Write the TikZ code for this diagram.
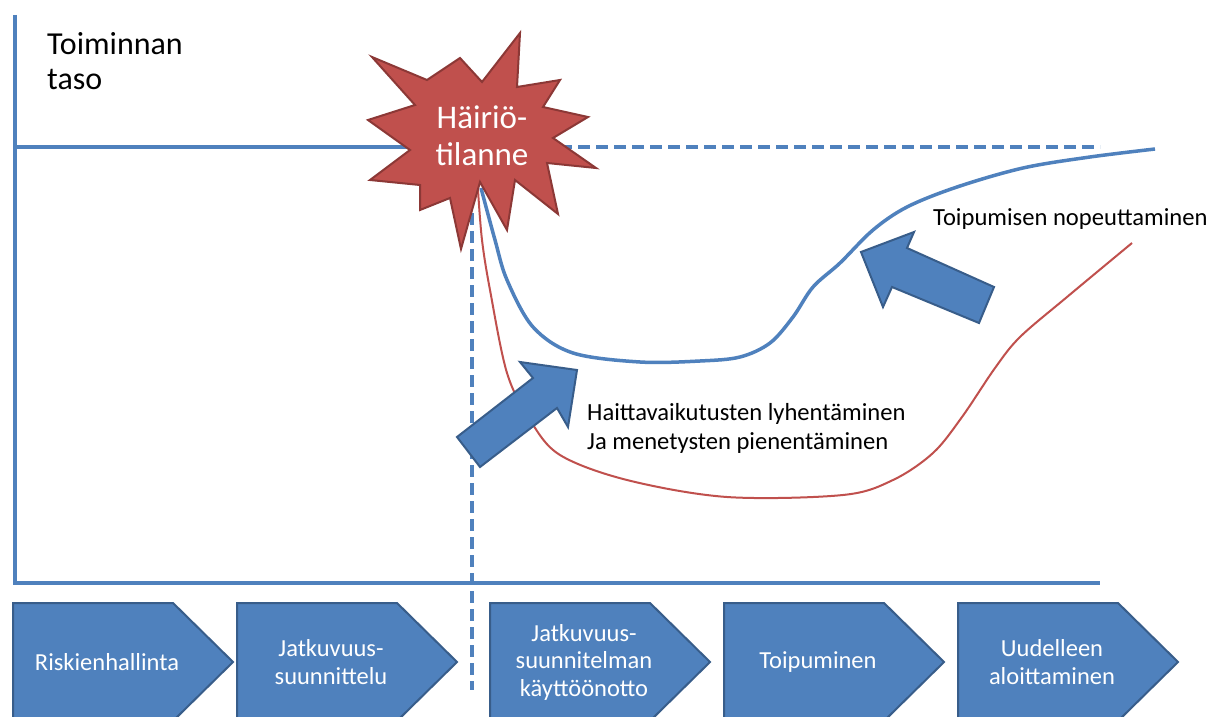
\documentclass[tikz,border=0pt]{standalone}
\usepackage{fontspec}
\setmainfont{Carlito}
\definecolor{lblue}{HTML}{4F81BD}
\definecolor{dblue}{HTML}{385D8A}
\definecolor{lred}{HTML}{C0504D}
\definecolor{dred}{HTML}{8C3836}
\begin{document}
\begin{tikzpicture}[x=1pt,y=-1pt,
  axisline/.style={draw=lblue,line width=3.5pt},
  leveldash/.style={draw=lblue,line width=3.5pt,dash pattern=on 12pt off 6pt},
  bluecurve/.style={draw=lblue,line width=3.5pt},
  redcurve/.style={draw=lred,line width=2pt},
  blockarrow/.style={fill=lblue,draw=dblue,line width=2pt,line join=miter},
  phasebox/.style={fill=lblue,draw=dblue,line width=2pt,line join=miter},
  phasetext/.style={text=white,align=center,inner sep=0pt,font=\fontsize{24.5}{27.5}\selectfont},
  startext/.style={text=white,align=center,inner sep=0pt,font=\fontsize{33}{37}\selectfont},
  note/.style={text=black,align=left,inner sep=0pt,font=\fontsize{24.6}{29}\selectfont}]
\useasboundingbox (0,0) rectangle (1210,717);
\fill[white] (0,0) rectangle (1210,717);

% axes
\coordinate (ytop) at (15,15);
\coordinate (orig) at (15,583);
\coordinate (xend) at (1100,583);
\draw[axisline] (ytop) -- (orig) -- (xend);

% normal level line
\coordinate (lvlL) at (15,147);
\coordinate (lvlM) at (420,147);
\coordinate (lvlD) at (560,147);
\coordinate (lvlR) at (1100,147);
\draw[axisline] (lvlL) -- (lvlM);
\draw[leveldash] (lvlD) -- (lvlR);

% vertical dashed divider
\coordinate (divT) at (472,195);
\coordinate (divB) at (472,690);
\draw[leveldash] (divT) -- (divB);

% curves
\draw[redcurve] plot[smooth,tension=0.55] coordinates {(478,190) (482,240) (490,290) (507,373) (530,420) (560,455) (627,480) (727,497) (843,495) (893,480) (933,453) (962,417) (995,368) (1020,337) (1067,297) (1132,243)};
\draw[bluecurve] plot[smooth,tension=0.55] coordinates {(481,188) (495,240) (507,280) (533,327) (573,353) (640,362) (700,361) (740,357) (770,343) (793,317) (813,287) (840,263) (873,230) (907,207) (957,187) (1023,168) (1090,157) (1155,149)};

% star
\fill[lred,draw=dred,line width=2pt,line join=miter]
  (520,33) -- (517,87) -- (560,80) -- (543,107) -- (588,117) -- (553,138) -- (596,168) -- (547,163) -- (558,214) -- (515,180) -- (507,230) -- (480,182) -- (461,249) -- (450,198) -- (420,210) -- (420,185) -- (370,180) -- (410,150) -- (368,120) -- (415,105) -- (372,57) -- (427,80) -- (460,58) -- (482,82) -- cycle;
\node[startext] (star) at (482,136) {Häiriö-\\tilanne};

% block arrows
\draw[blockarrow] (457,437) -- (533,378) -- (520,362) -- (577,370) -- (568,427) -- (557,408) -- (480,467) -- cycle;
\draw[blockarrow] (861,252) -- (914,232) -- (907,248) -- (994,287) -- (979,323) -- (892,287) -- (883,307) -- cycle;

% labels
\node[inner sep=0pt,anchor=north west,align=left,font=\fontsize{32}{35}\selectfont] (ylabel) at (47,32) {Toiminnan\\taso};
\node[note,anchor=west] (speedup) at (933,219) {Toipumisen nopeuttaminen};
\node[note,anchor=north west] (shorten) at (587,403) {Haittavaikutusten lyhentäminen\\Ja menetysten pienentäminen};

% phase boxes
\foreach \l/\nm/\txt in {13/p1/Riskienhallinta, 237/p2/{Jatkuvuus-\\suunnittelu}, 490/p3/{Jatkuvuus-\\suunnitelman\\käyttöönotto}, 724/p4/Toipuminen, 958/p5/{Uudelleen\\aloittaminen}}{
  \draw[phasebox] (\l,603) -- ({\l+160},603) -- ({\l+220},662) -- ({\l+160},721) -- (\l,721) -- cycle;
  \node[phasetext] (\nm) at ({\l+94},662) {\txt};
}
\end{tikzpicture}
\end{document}
